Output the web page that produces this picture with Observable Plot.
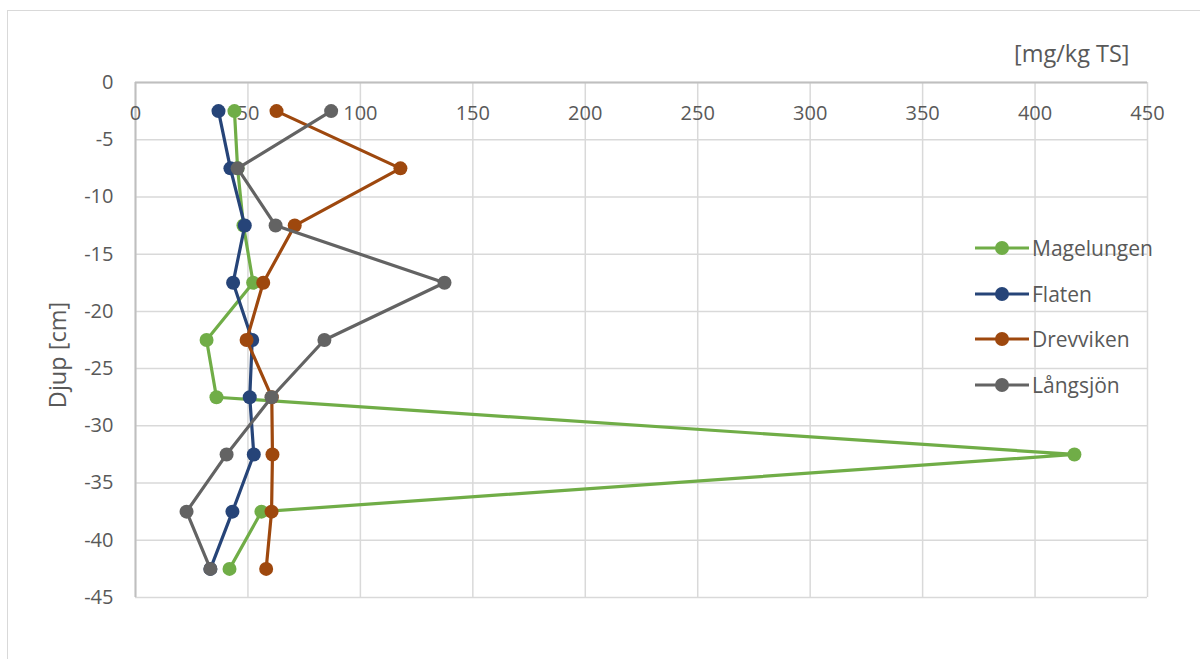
<!DOCTYPE html>
<html>
<head>
<meta charset="utf-8">
<script src="https://cdn.jsdelivr.net/npm/d3@7"></script>
<script src="https://cdn.jsdelivr.net/npm/@observablehq/plot@0.6"></script>
<style>
  html, body { margin: 0; padding: 0; background: #fff; }
  #wrap { position: relative; width: 1200px; height: 659px; overflow: hidden; font-family: "Open Sans", sans-serif; }
  #border { position: absolute; left: 7px; top: 10px; width: 1200px; height: 700px; border: 1.5px solid #d9d9d9; box-sizing: border-box; }
  #chart { position: absolute; left: 0; top: 0; }
  .lbl { position: absolute; color: #595959; white-space: nowrap; }
  #legend { position: absolute; left: 975px; top: 225px; }
  .item { display: flex; align-items: center; height: 45.7px; font-size: 21px; color: #595959; }
  .item svg { margin-right: 1px; }
</style>
</head>
<body>
<div id="wrap">
  <div id="border"></div>
  <div id="chart"></div>
  <div class="lbl" style="left:1014px; top:37px; font-size:23.5px;">[mg/kg TS]</div>
  <div class="lbl" id="ylab" style="left:57px; top:355px; font-size:23.5px; transform: translate(-50%,-50%) rotate(-90deg);">Djup [cm]</div>
  <div id="legend"></div>
</div>
<script>
const depths = [-2.5, -7.5, -12.5, -17.5, -22.5, -27.5, -32.5, -37.5, -42.5];
const seriesNames = ["Magelungen", "Flaten", "Drevviken", "Långsjön"];
const seriesColors = ["#70ad47", "#264478", "#9e480e", "#636363"];
const magelungen = [44, 45.4, 48, 52.3, 31.6, 36, 417.5, 56, 41.8];
const flaten = [36.9, 42.2, 48.6, 43.4, 51.9, 50.8, 52.6, 43.1, 33.3];
const drevviken = [62.7, 117.8, 70.8, 56.8, 49.4, 60.6, 60.9, 60.5, 58.1];
const langsjon = [87, 45.4, 62.3, 137.4, 84, 60.5, 40.5, 22.7, 33.3];
const xTicks = [0, 50, 100, 150, 200, 250, 300, 350, 400, 450];
const yTicks = [0, -5, -10, -15, -20, -25, -30, -35, -40, -45];

const valuesList = [magelungen, flaten, drevviken, langsjon];
const rows = [];
seriesNames.forEach((s, i) => valuesList[i].forEach((v, j) => rows.push({series: s, value: v, depth: depths[j]})));

const seriesMarks = seriesNames.flatMap((s, i) => {
  const d = rows.filter(r => r.series === s);
  return [
    Plot.line(d, {x: "value", y: "depth", stroke: seriesColors[i], strokeWidth: 3.2}),
    Plot.dot(d, {x: "value", y: "depth", fill: seriesColors[i], r: 7})
  ];
});

const plot = Plot.plot({
  width: 1200,
  height: 659,
  marginLeft: 135,
  marginRight: 53,
  marginTop: 82,
  marginBottom: 62,
  style: {fontFamily: "Open Sans, sans-serif", fontSize: "20px", color: "#595959", background: "transparent"},
  x: {domain: [0, 450]},
  y: {domain: [-45, 0]},
  marks: [
    Plot.gridX(xTicks, {stroke: "#d9d9d9", strokeOpacity: 1, strokeWidth: 1.5}),
    Plot.gridY(yTicks, {stroke: "#d9d9d9", strokeOpacity: 1, strokeWidth: 1.5}),
    Plot.ruleX([0], {stroke: "#bfbfbf", strokeWidth: 2}),
    Plot.ruleY([0], {stroke: "#bfbfbf", strokeWidth: 2}),
    Plot.axisX(xTicks, {anchor: "top", tickSize: 0, tickPadding: 0, dy: 37, label: null, fill: "#595959", fontSize: 20}),
    Plot.axisY(yTicks, {anchor: "left", tickSize: 0, tickPadding: 22, label: null, fill: "#595959", fontSize: 20, tickFormat: d => d === 0 ? "0" : d3.format("")(d).replace("−", "-")}),
    ...seriesMarks
  ]
});
document.getElementById("chart").appendChild(plot);

const legend = document.getElementById("legend");
seriesNames.forEach((s, i) => {
  const div = document.createElement("div");
  div.className = "item";
  div.innerHTML = `<svg width="56" height="16"><line x1="0" y1="8" x2="54" y2="8" stroke="${seriesColors[i]}" stroke-width="3.2"/><circle cx="27" cy="8" r="7" fill="${seriesColors[i]}"/></svg><span>${s}</span>`;
  legend.appendChild(div);
});
</script>
</body>
</html>
